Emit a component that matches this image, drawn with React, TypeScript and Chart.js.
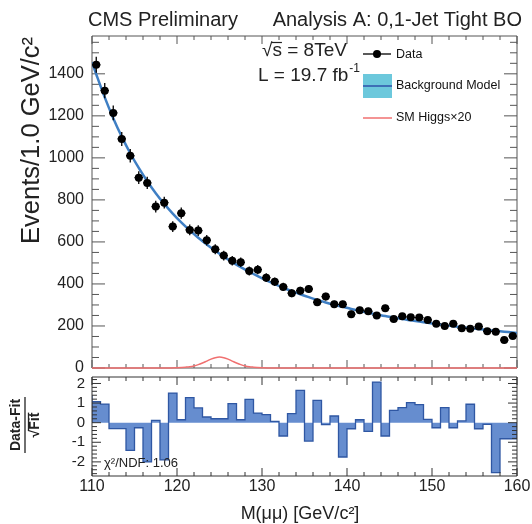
import { useEffect, useRef } from 'react';
import { Chart, registerables } from 'chart.js';

Chart.register(...registerables);

const FONT = "'Liberation Sans', Arial, Helvetica, sans-serif";
Chart.defaults.font.family = FONT;

// ---- data ----
const binCenters = [
  110.5, 111.5, 112.5, 113.5, 114.5, 115.5, 116.5, 117.5, 118.5, 119.5,
  120.5, 121.5, 122.5, 123.5, 124.5, 125.5, 126.5, 127.5, 128.5, 129.5,
  130.5, 131.5, 132.5, 133.5, 134.5, 135.5, 136.5, 137.5, 138.5, 139.5,
  140.5, 141.5, 142.5, 143.5, 144.5, 145.5, 146.5, 147.5, 148.5, 149.5,
  150.5, 151.5, 152.5, 153.5, 154.5, 155.5, 156.5, 157.5, 158.5, 159.5,
];
const binEdges = [
  110, 111, 112, 113, 114, 115, 116, 117, 118, 119,
  120, 121, 122, 123, 124, 125, 126, 127, 128, 129,
  130, 131, 132, 133, 134, 135, 136, 137, 138, 139,
  140, 141, 142, 143, 144, 145, 146, 147, 148, 149,
  150, 151, 152, 153, 154, 155, 156, 157, 158, 159, 160,
];
const eventCounts = [
  1443, 1320, 1214, 1090, 1010, 906, 881, 768, 787, 673,
  737, 657, 654, 608, 565, 535, 510, 503, 462, 468,
  430, 411, 386, 356, 368, 376, 313, 340, 303, 303,
  256, 275, 270, 250, 284, 233, 246, 241, 240, 229,
  211, 200, 210, 189, 187, 197, 175, 173, 133, 152,
];
const fitMass = [
  110, 110.5, 111.5, 112.5, 113.5, 114.5, 115.5, 116.5, 117.5, 118.5, 119.5,
  120.5, 121.5, 122.5, 123.5, 124.5, 125.5, 126.5, 127.5, 128.5, 129.5,
  130.5, 131.5, 132.5, 133.5, 134.5, 135.5, 136.5, 137.5, 138.5, 139.5,
  140.5, 141.5, 142.5, 143.5, 144.5, 145.5, 146.5, 147.5, 148.5, 149.5,
  150.5, 151.5, 152.5, 153.5, 154.5, 155.5, 156.5, 157.5, 158.5, 159.5, 160,
];
const fitCounts = [
  1455, 1398, 1288, 1189, 1101, 1022, 952, 889, 832, 781, 735,
  693, 655, 620, 588, 558, 530, 504, 480, 458, 437,
  417, 399, 382, 366, 351, 337, 324, 312, 301, 291,
  281, 272, 263, 255, 247, 240, 233, 227, 221, 215,
  209, 204, 199, 194, 189, 185, 181, 177, 173, 169, 167,
];
const higgsMass = [
  110, 119, 120, 121, 121.5, 122, 122.5, 123, 123.5, 124, 124.5, 125,
  125.5, 126, 126.5, 127, 127.5, 128, 128.5, 129, 130, 131, 160,
];
const higgsCounts = [
  0, 0, 1.5, 4, 6, 10, 16, 24, 33, 42, 49, 52,
  49, 42, 33, 24, 16, 10, 6, 4, 1.5, 0, 0,
];
const pulls = [
  1.4, 1.07, 0.95, -0.3, -0.3, -1.41, -0.26, -2.0, 0.12, -1.9,
  1.51, 0.15, 1.28, 0.75, 0.29, 0.2, 0.2, 0.97, 0.15, 1.19,
  0.49, 0.41, 0.07, -0.68, 0.46, 1.65, -0.94, 1.14, -0.1, 0.34,
  -1.75, -0.31, 0.15, -0.44, 2.07, -0.68, 0.63, 0.77, 1.02, 0.92,
  0.17, -0.26, 0.77, -0.26, 0.09, 0.94, -0.31, -0.09, -2.55, -0.82,
];
const countTicks = [0, 200, 400, 600, 800, 1000, 1200, 1400];
const pullTicks = [-2, -1, 0, 1, 2];
const massTicks = [110, 120, 130, 140, 150, 160];

const MAIN_H = 372;
const LOW_TOP = 370;
const LOW_H = 154;

type AxisCfg = {
  color: string;
  xMajor: number; xMinor: number; xMajorLen: number; xMinorLen: number;
  yMajor: number; yMinor: number; yMajorLen: number; yMinorLen: number;
};

function stepValues(min: number, max: number, step: number) {
  const out: number[] = [];
  const s = Math.ceil(min / step - 1e-9);
  for (let k = s; k * step <= max + 1e-9; k++) out.push(k * step);
  return out;
}

function drawRootAxes(chart: any, cfg: AxisCfg) {
  const { ctx, chartArea: a } = chart;
  const xs = chart.scales.x;
  const ys = chart.scales.y;
  ctx.save();
  ctx.strokeStyle = cfg.color;
  ctx.lineWidth = 1;
  ctx.beginPath();
  ctx.rect(a.left, a.top, a.right - a.left, a.bottom - a.top);
  for (const v of stepValues(xs.min, xs.max, cfg.xMinor)) {
    const p = xs.getPixelForValue(v);
    const major = Math.abs(v / cfg.xMajor - Math.round(v / cfg.xMajor)) < 1e-6;
    const len = major ? cfg.xMajorLen : cfg.xMinorLen;
    ctx.moveTo(p, a.bottom); ctx.lineTo(p, a.bottom - len);
    ctx.moveTo(p, a.top); ctx.lineTo(p, a.top + len);
  }
  for (const v of stepValues(ys.min, ys.max, cfg.yMinor)) {
    const p = ys.getPixelForValue(v);
    const major = Math.abs(v / cfg.yMajor - Math.round(v / cfg.yMajor)) < 1e-6;
    const len = major ? cfg.yMajorLen : cfg.yMinorLen;
    ctx.moveTo(a.left, p); ctx.lineTo(a.left + len, p);
    ctx.moveTo(a.right, p); ctx.lineTo(a.right - len, p);
  }
  ctx.stroke();
  ctx.restore();
}

const mainPlugin = {
  id: 'mainDecor',
  beforeDatasetsDraw(chart: any) {
    drawRootAxes(chart, {
      color: '#555',
      xMajor: 10, xMinor: 2, xMajorLen: 8, xMinorLen: 4,
      yMajor: 200, yMinor: 50, yMajorLen: 13, yMinorLen: 7,
    });
  },
  beforeDatasetDraw(chart: any, args: any) {
    if (args.index !== 0) return;
    const { ctx } = chart;
    const xs = chart.scales.x;
    const ys = chart.scales.y;
    ctx.save();
    ctx.strokeStyle = '#000';
    ctx.lineWidth = 1.3;
    ctx.beginPath();
    eventCounts.forEach((n, i) => {
      const err = Math.sqrt(n);
      const px = xs.getPixelForValue(binCenters[i]);
      const py = ys.getPixelForValue(n);
      ctx.moveTo(px, ys.getPixelForValue(n - err));
      ctx.lineTo(px, ys.getPixelForValue(n + err));
      ctx.moveTo(xs.getPixelForValue(binCenters[i] - 0.5), py);
      ctx.lineTo(xs.getPixelForValue(binCenters[i] + 0.5), py);
    });
    ctx.stroke();
    ctx.restore();
  },
  afterDraw(chart: any) {
    const { ctx } = chart;
    ctx.save();
    ctx.fillStyle = '#222';
    ctx.textBaseline = 'alphabetic';
    // header
    ctx.font = `20px ${FONT}`;
    ctx.textAlign = 'left';
    ctx.fillText('CMS Preliminary', 88, 26);
    ctx.textAlign = 'right';
    ctx.fillText('Analysis A: 0,1-Jet Tight BO', 522, 26);
    // energy / lumi
    ctx.textAlign = 'left';
    ctx.font = `19px ${FONT}`;
    const rootW = ctx.measureText('√').width;
    const sW = ctx.measureText('s').width;
    ctx.fillText('√s = 8TeV', 262, 56);
    ctx.strokeStyle = '#222';
    ctx.lineWidth = 1.2;
    ctx.beginPath();
    ctx.moveTo(262 + rootW - 1, 42.5);
    ctx.lineTo(262 + rootW + sW, 42.5);
    ctx.stroke();
    const lumi = 'L = 19.7 fb';
    ctx.fillText(lumi, 258, 81);
    const lw = ctx.measureText(lumi).width;
    ctx.font = `12px ${FONT}`;
    ctx.fillText('-1', 258 + lw + 1, 72);
    // y title
    ctx.save();
    ctx.translate(39, 37);
    ctx.rotate(-Math.PI / 2);
    ctx.font = `25.5px ${FONT}`;
    ctx.textAlign = 'right';
    ctx.fillText('Events/1.0 GeV/c²', 0, 0);
    ctx.restore();
    // legend
    ctx.strokeStyle = '#000';
    ctx.lineWidth = 1.3;
    ctx.beginPath();
    ctx.moveTo(363, 54);
    ctx.lineTo(391, 54);
    ctx.stroke();
    ctx.fillStyle = '#000';
    ctx.beginPath();
    ctx.arc(377, 54, 4, 0, Math.PI * 2);
    ctx.fill();
    ctx.fillStyle = '#6cc8dc';
    ctx.fillRect(363, 74, 29, 24);
    ctx.strokeStyle = '#3d6fb6';
    ctx.lineWidth = 2;
    ctx.beginPath();
    ctx.moveTo(363, 86);
    ctx.lineTo(392, 86);
    ctx.stroke();
    ctx.strokeStyle = '#f07070';
    ctx.lineWidth = 1.5;
    ctx.beginPath();
    ctx.moveTo(363, 118);
    ctx.lineTo(392, 118);
    ctx.stroke();
    ctx.fillStyle = '#111';
    ctx.font = `12.5px ${FONT}`;
    ctx.textBaseline = 'middle';
    ctx.fillText('Data', 396, 55);
    ctx.fillText('Background Model', 396, 86);
    ctx.fillText('SM Higgs×20', 396, 118);
    ctx.restore();
  },
};

const lowPlugin = {
  id: 'lowDecor',
  afterDatasetsDraw(chart: any) {
    drawRootAxes(chart, {
      color: '#333',
      xMajor: 10, xMinor: 2, xMajorLen: 8, xMinorLen: 4,
      yMajor: 1, yMinor: 0.2, yMajorLen: 9, yMinorLen: 5,
    });
  },
  afterDraw(chart: any) {
    const { ctx, chartArea: a } = chart;
    const xs = chart.scales.x;
    ctx.save();
    ctx.fillStyle = '#222';
    // x tick labels, placed by the x scale
    ctx.font = `16px ${FONT}`;
    ctx.textAlign = 'center';
    ctx.textBaseline = 'middle';
    for (const v of massTicks) {
      ctx.fillText(String(v), xs.getPixelForValue(v), a.bottom + 11);
    }
    ctx.textBaseline = 'alphabetic';
    ctx.textAlign = 'left';
    ctx.font = `13px ${FONT}`;
    ctx.fillText('χ²/NDF: 1.06', 104, 467 - LOW_TOP);
    // x title
    ctx.textAlign = 'center';
    ctx.font = `18px ${FONT}`;
    ctx.fillText('M(μμ) [GeV/c²]', 300, 519 - LOW_TOP);
    // y title (fraction)
    ctx.save();
    ctx.translate(0, 425 - LOW_TOP);
    ctx.rotate(-Math.PI / 2);
    ctx.font = `bold 14px ${FONT}`;
    ctx.textAlign = 'center';
    ctx.textBaseline = 'middle';
    ctx.fillText('Data-Fit', 0, 16);
    ctx.strokeStyle = '#222';
    ctx.lineWidth = 1.3;
    ctx.beginPath();
    ctx.moveTo(-28, 25);
    ctx.lineTo(28, 25);
    ctx.stroke();
    ctx.fillText('√Fit', 0, 35);
    const fw = ctx.measureText('√Fit').width;
    const rw = ctx.measureText('√').width;
    ctx.beginPath();
    ctx.moveTo(-fw / 2 + rw - 1, 28.5);
    ctx.lineTo(fw / 2, 28.5);
    ctx.stroke();
    ctx.restore();
    ctx.restore();
  },
};

export default function App() {
  const mainRef = useRef<HTMLCanvasElement>(null);
  const lowRef = useRef<HTMLCanvasElement>(null);

  useEffect(() => {
    const fixPad = (s: any, w: number) => {
      s.width = w;
      s.paddingTop = 0;
      s.paddingBottom = 0;
    };
    const setTicks = (vals: number[]) => (s: any) => {
      s.ticks = vals.map((v) => ({ value: v }));
    };
    const main = new Chart(mainRef.current as HTMLCanvasElement, {
      type: 'scatter',
      data: {
        datasets: [
          {
            label: 'Data',
            data: binCenters.map((m, i) => ({ x: m, y: eventCounts[i] })),
            pointRadius: 4,
            pointBackgroundColor: '#000',
            pointBorderWidth: 0,
            showLine: false,
          },
          {
            label: 'Background Model',
            type: 'line',
            data: fitMass.map((m, i) => ({ x: m, y: fitCounts[i] })),
            borderColor: '#3f7fc4',
            borderWidth: 2.5,
            pointRadius: 0,
            cubicInterpolationMode: 'monotone',
            fill: false,
          },
          {
            label: 'SM Higgs×20',
            type: 'line',
            data: higgsMass.map((m, i) => ({ x: m, y: higgsCounts[i] })),
            borderColor: '#f07070',
            borderWidth: 1.5,
            pointRadius: 0,
            cubicInterpolationMode: 'monotone',
            fill: false,
            clip: 4,
          },
        ] as any,
      },
      options: {
        animation: false,
        responsive: false,
        devicePixelRatio: 1,
        layout: { padding: { left: 0, right: 15, top: 36, bottom: 4 } },
        plugins: { legend: { display: false }, tooltip: { enabled: false } },
        scales: {
          x: { type: 'linear', min: 110, max: 160, display: false },
          y: {
            type: 'linear',
            min: 0,
            max: 1580,
            grid: { display: false, drawTicks: false },
            border: { display: false },
            afterBuildTicks: setTicks(countTicks),
            ticks: {
              padding: 8,
              color: '#222',
              font: { size: 16 },
              callback: (v: any) => String(v),
            },
            afterFit: (s: any) => fixPad(s, 92),
          },
        },
      } as any,
      plugins: [mainPlugin],
    });

    const stepX = [binEdges[0], ...binEdges, binEdges[binEdges.length - 1]];
    const stepY = [0, ...pulls, pulls[pulls.length - 1], 0];
    const low = new Chart(lowRef.current as HTMLCanvasElement, {
      type: 'line',
      data: {
        datasets: [
          {
            label: 'Pull',
            data: stepX.map((x, i) => ({ x, y: stepY[i] })),
            stepped: 'after',
            borderColor: '#2f57a3',
            borderWidth: 1.3,
            backgroundColor: '#668dcf',
            fill: 'origin',
            pointRadius: 0,
          },
        ] as any,
      },
      options: {
        animation: false,
        responsive: false,
        devicePixelRatio: 1,
        layout: { padding: { left: 0, right: 15, top: 7, bottom: 48 } },
        plugins: { legend: { display: false }, tooltip: { enabled: false } },
        scales: {
          x: { type: 'linear', min: 110, max: 160, display: false },
          y: {
            type: 'linear',
            min: -2.72,
            max: 2.33,
            grid: { display: false, drawTicks: false },
            border: { display: false },
            afterBuildTicks: setTicks(pullTicks),
            ticks: {
              padding: 7,
              color: '#222',
              font: { size: 15 },
              callback: (v: any) => String(v),
            },
            afterFit: (s: any) => fixPad(s, 92),
          },
        },
      } as any,
      plugins: [lowPlugin],
    });

    return () => {
      main.destroy();
      low.destroy();
    };
  }, []);

  return (
    <div style={{ position: 'absolute', left: 0, top: 0, width: 532, height: 524, background: '#fff' }}>
      <canvas
        ref={mainRef}
        width={532}
        height={MAIN_H}
        style={{ position: 'absolute', left: 0, top: 0, width: 532, height: MAIN_H }}
      />
      <canvas
        ref={lowRef}
        width={532}
        height={LOW_H}
        style={{ position: 'absolute', left: 0, top: LOW_TOP, width: 532, height: LOW_H }}
      />
    </div>
  );
}
